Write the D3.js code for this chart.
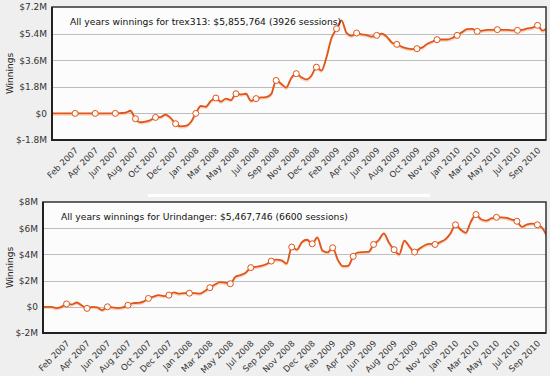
<!DOCTYPE html>
<html>
<head>
<meta charset="utf-8">
<script src="https://cdn.jsdelivr.net/npm/d3@7"></script>
<style>
    body { margin: 0; background: #efefef; }
    svg { display: block; font-family: "DejaVu Sans", Verdana, sans-serif; }
</style>
</head>
<body>
<svg id="chart" width="550" height="376"></svg>
<script>
// Date labels shown under both charts (evenly spaced, one per marker)
const dateLabels = [
    'Feb 2007', 'Apr 2007', 'Jun 2007', 'Aug 2007', 'Oct 2007', 'Dec 2007',
    'Jan 2008', 'Mar 2008', 'May 2008', 'Jul 2008', 'Sep 2008', 'Nov 2008',
    'Dec 2008', 'Feb 2009', 'Apr 2009', 'Jun 2009', 'Aug 2009', 'Oct 2009',
    'Nov 2009', 'Jan 2010', 'Mar 2010', 'May 2010', 'Jul 2010', 'Sep 2010'
];

// Samples are taken every quarter of a label step, starting 1.25 steps before Feb 2007
const sampleStep = 0.25;
const sampleStart = -1.25;

// Cumulative winnings in $M, trex313
const trexValues = [
    0, 0, 0, 0, 0, 0, 0, 0, 0, 0, 0, 0, 0, 0,
    0.02, 0.05, 0.18, -0.36, -0.6, -0.55, -0.45, -0.27, -0.25, -0.08, -0.3,
    -0.7, -0.88, -0.85, -0.6, 0, 0.5, 0.45, 0.85, 1.04, 0.8, 1.0, 0.9,
    1.33, 1.28, 1.33, 0.85, 1.0, 1.08, 1.1, 1.3, 2.23, 2.0, 1.75, 2.4,
    2.69, 2.45, 2.3, 2.55, 3.13, 2.9, 3.8, 5.1, 5.73, 6.3, 5.45, 5.25,
    5.44, 5.35, 5.3, 5.2, 5.28, 5.4, 5.2, 4.8, 4.67, 4.5, 4.4, 4.35,
    4.38, 4.45, 4.7, 4.85, 4.99, 5.0, 5.0, 5.1, 5.28, 5.5, 5.7, 5.72,
    5.55, 5.6, 5.65, 5.65, 5.67, 5.65, 5.65, 5.62, 5.62, 5.65, 5.75, 5.8,
    5.96, 5.6, 5.8
];

// Cumulative winnings in $M, Urindanger
const urinValues = [
    0, 0, 0, -0.1, 0, 0.22, 0.18, 0.33, 0.1, -0.12, 0, -0.05, -0.25,
    0, -0.05, -0.1, -0.05, 0.12, 0.28, 0.3, 0.4, 0.64, 0.78, 0.89, 0.82,
    0.89, 1.1, 1.0, 1.05, 1.04, 1.05, 1.0, 1.2, 1.46, 1.7, 1.88, 1.85,
    1.76, 2.3, 2.42, 2.6, 2.99, 3.04, 3.12, 3.25, 3.49, 3.6, 3.55, 3.3,
    4.56, 4.36, 4.95, 5.12, 4.81, 5.3, 4.3, 4.15, 4.51, 3.6, 3.1, 3.12,
    3.85, 4.15, 4.18, 4.2, 4.76, 5.1, 5.6, 4.9, 4.36, 4.0, 5.05, 4.6,
    4.18, 4.45, 4.7, 4.8, 4.76, 4.94, 5.15, 5.6, 6.26, 5.9, 5.65, 6.5,
    7.04, 6.68, 6.58, 6.75, 6.83, 6.83, 6.78, 6.66, 6.53, 6.1, 6.3, 6.35,
    6.26, 6.0, 5.3
];

const trexTicks = [-1.8, 0, 1.8, 3.6, 5.4, 7.2];
const urinTicks = [-2, 0, 2, 4, 6, 8];

const trexTitle = 'All years winnings for trex313: $5,855,764 (3926 sessions)';
const urinTitle = 'All years winnings for Urindanger: $5,467,746 (6600 sessions)';

const svg = d3.select('#chart');

svg.append('rect')
    .attr('width', 550)
    .attr('height', 376)
    .attr('fill', '#efefef');

const money = v => v === 0 ? '$0' : `$${v}M`;

function drawChart(cfg, id) {
    const { values, ticks, title, left, top, right, bottom, whiteStripe } = cfg;

    const x = d3.scaleLinear()
        .domain([-1.15, 23.42])
        .range([left, right]);

    const y = d3.scaleLinear()
        .domain([ticks[0], ticks[ticks.length - 1]])
        .range([bottom, top]);

    const points = values.map((v, i) => ({ u: sampleStart + i * sampleStep, v }));
    // markers sit on every label position
    const markers = points.filter(p => Math.abs(p.u - Math.round(p.u)) < 1e-6 && p.u >= 0);

    const g = svg.append('g');

    // Plot background
    g.append('rect')
        .attr('x', left)
        .attr('y', top)
        .attr('width', right - left)
        .attr('height', bottom - top)
        .attr('fill', '#fbfcfb');

    // Horizontal grid lines
    g.append('g')
        .selectAll('line')
        .data(ticks.slice(1, -1))
        .join('line')
        .attr('x1', left)
        .attr('x2', right)
        .attr('y1', d => Math.round(y(d)) + 0.5)
        .attr('y2', d => Math.round(y(d)) + 0.5)
        .attr('stroke', '#bdbdbd')
        .attr('stroke-width', 1);

    // Y axis labels
    const yAxis = g.append('g')
        .attr('transform', `translate(${left},0)`)
        .call(d3.axisLeft(y).tickValues(ticks).tickFormat(money).tickSize(0).tickPadding(5));
    yAxis.select('.domain').remove();
    yAxis.selectAll('text')
        .attr('font-size', 9)
        .attr('font-family', '"DejaVu Sans", Verdana, sans-serif')
        .attr('fill', '#333');

    // X axis labels, rotated
    const xAxis = g.append('g')
        .attr('transform', `translate(0,${bottom})`)
        .call(d3.axisBottom(x).tickValues(d3.range(dateLabels.length)).tickFormat(i => dateLabels[i]).tickSize(0));
    xAxis.select('.domain').remove();
    xAxis.selectAll('text')
        .attr('font-size', 8.5)
        .attr('font-family', '"DejaVu Sans", Verdana, sans-serif')
        .attr('fill', '#333')
        .attr('text-anchor', 'end')
        .attr('x', 0)
        .attr('y', 0)
        .attr('dy', 0)
        .attr('transform', 'translate(3,11) rotate(-45)');

    // Clip for the line
    g.append('clipPath')
        .attr('id', id)
        .append('rect')
        .attr('x', left)
        .attr('y', top)
        .attr('width', right - left)
        .attr('height', bottom - top);

    const line = d3.line()
        .x(d => x(d.u))
        .y(d => y(d.v))
        .curve(d3.curveMonotoneX);

    const lines = g.append('g').attr('clip-path', `url(#${id})`);

    // soft shadow under the line
    lines.append('path')
        .datum(points)
        .attr('d', line)
        .attr('fill', 'none')
        .attr('stroke', '#f2c2a6')
        .attr('stroke-width', 1.5)
        .attr('opacity', 0.7)
        .attr('transform', 'translate(0,1.5)');

    lines.append('path')
        .datum(points)
        .attr('d', line)
        .attr('fill', 'none')
        .attr('stroke', '#e05416')
        .attr('stroke-width', 1.8)
        .attr('stroke-linejoin', 'round');

    lines.selectAll('circle')
        .data(markers)
        .join('circle')
        .attr('cx', d => x(d.u))
        .attr('cy', d => y(d.v))
        .attr('r', 3)
        .attr('fill', '#fff')
        .attr('stroke', '#e05416')
        .attr('stroke-width', 1);

    // Frame: thin top/right, heavier left/bottom
    g.append('rect')
        .attr('x', left)
        .attr('y', top)
        .attr('width', right - left)
        .attr('height', bottom - top)
        .attr('fill', 'none')
        .attr('stroke', '#333')
        .attr('stroke-width', 1.5);
    g.append('path')
        .attr('d', `M${left},${top}V${bottom}H${right}`)
        .attr('fill', 'none')
        .attr('stroke', '#222')
        .attr('stroke-width', 2);

    // the white stripe seen above the second chart's title
    if (whiteStripe) {
        g.append('rect')
            .attr('x', 148)
            .attr('y', top - 8)
            .attr('width', 282)
            .attr('height', 3)
            .attr('fill', '#fff');
    }

    // Title inside the plot
    g.append('text')
        .attr('x', left + 18)
        .attr('y', top + 18)
        .attr('font-size', 9.2)
        .attr('fill', '#111')
        .text(title);

    // Y axis title
    g.append('text')
        .attr('transform', `translate(13,${(top + bottom) / 2}) rotate(-90)`)
        .attr('text-anchor', 'middle')
        .attr('font-size', 9)
        .attr('fill', '#222')
        .text('Winnings');
}

drawChart({ values: trexValues, ticks: trexTicks, title: trexTitle, left: 52, top: 7, right: 546, bottom: 140 }, 'clip-trex');
drawChart({ values: urinValues, ticks: urinTicks, title: urinTitle, left: 43, top: 202, right: 546, bottom: 333, whiteStripe: true }, 'clip-urin');
</script>
</body>
</html>
